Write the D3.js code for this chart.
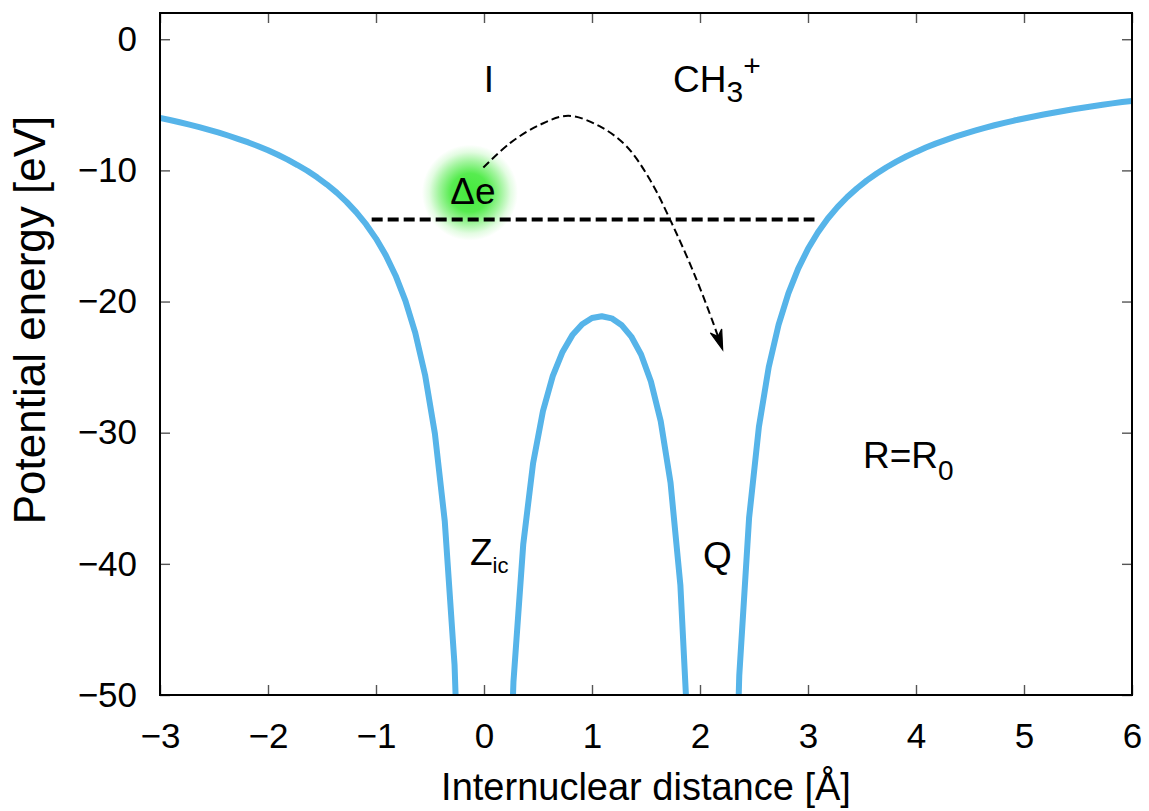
<!DOCTYPE html>
<html><head><meta charset="utf-8">
<script src="https://cdn.jsdelivr.net/npm/d3@7"></script>
<style>body{margin:0;background:#fff}</style>
</head><body><svg id="chart" width="1149" height="811"></svg>
<script>
// Internuclear distance samples [Å]
const distance = [-3, -2.9091, -2.8182, -2.7273, -2.6364, -2.5455, -2.4545, -2.3636, -2.2727, -2.1818, -2.0909,
  -2, -1.9091, -1.8182, -1.7273, -1.6364, -1.5455, -1.4545, -1.3636, -1.2727, -1.1818, -1.0909,
  -1, -0.9091, -0.8182, -0.7273, -0.6364, -0.5455, -0.4545, -0.3636, -0.2727, -0.1818, -0.0909,
  0,
  0.0909, 0.1818, 0.2727, 0.3636, 0.4545, 0.5455, 0.6364, 0.7273, 0.8182, 0.9091, 1,
  1.0909, 1.1818, 1.2727, 1.3636, 1.4545, 1.5455, 1.6364, 1.7273, 1.8182, 1.9091, 2,
  2.0909, 2.1818, 2.2727, 2.3636, 2.4545, 2.5455, 2.6364, 2.7273, 2.8182, 2.9091, 3,
  3.0909, 3.1818, 3.2727, 3.3636, 3.4545, 3.5455, 3.6364, 3.7273, 3.8182, 3.9091, 4,
  4.0909, 4.1818, 4.2727, 4.3636, 4.4545, 4.5455, 4.6364, 4.7273, 4.8182, 4.9091, 5,
  5.0909, 5.1818, 5.2727, 5.3636, 5.4545, 5.5455, 5.6364, 5.7273, 5.8182, 5.9091, 6];
// Potential energy [eV] (null = singular point)
const energy = [-6.00, -6.16, -6.33, -6.51, -6.70, -6.91, -7.12, -7.36, -7.61, -7.87, -8.16,
  -8.47, -8.81, -9.18, -9.59, -10.03, -10.53, -11.08, -11.70, -12.40, -13.20, -14.12,
  -15.20, -16.48, -18.03, -19.95, -22.39, -25.61, -30.08, -36.72, -47.70, -69.51, -134.6,
  null,
  -135.0, -70.37, -49.01, -38.49, -32.33, -28.37, -25.69, -23.84, -22.56, -21.73, -21.26,
  -21.12, -21.28, -21.78, -22.67, -24.04, -26.09, -29.13, -33.82, -41.61, -56.44, -94.23,
  -369.9, -176.9, -74.61, -48.51, -36.50, -29.55, -25.00, -21.78, -19.37, -17.49, -15.98,
  -14.74, -13.69, -12.80, -12.03, -11.36, -10.76, -10.24, -9.76, -9.33, -8.94, -8.59,
  -8.26, -7.96, -7.69, -7.43, -7.19, -6.97, -6.76, -6.56, -6.38, -6.20, -6.04,
  -5.89, -5.74, -5.60, -5.47, -5.34, -5.22, -5.11, -5.00, -4.89, -4.79, -4.70];
const xTicks = [-3, -2, -1, 0, 1, 2, 3, 4, 5, 6];
const yTicks = [0, -10, -20, -30, -40, -50];
// electron energy level (dashed line)
const levelX = [-1.04, 3.06];
const levelE = -13.75;
// electron hopping path (dashed arrow)
const hopX = [-0.006, 0.241, 0.519, 0.781, 1.074, 1.321, 1.537, 1.753, 1.969, 2.123, 2.21];
const hopE = [-9.78, -7.92, -6.52, -5.84, -6.65, -8.18, -10.72, -14.28, -18.34, -21.65, -23.68];

const W = 1149, H = 811;
const m = {left: 160, right: 1132, top: 13, bottom: 695};
const svg = d3.select('#chart');
const FONT = '"Liberation Sans", Arial, Helvetica, sans-serif';

const x = d3.scaleLinear().domain([-3, 6]).range([m.left, m.right]);
const y = d3.scaleLinear().domain([-50, 2]).range([m.bottom, m.top]);

const defs = svg.append('defs');
defs.append('clipPath').attr('id', 'clip').append('rect')
  .attr('x', m.left).attr('y', m.top).attr('width', m.right - m.left).attr('height', m.bottom - m.top);
const grad = defs.append('radialGradient').attr('id', 'glow');
[[0, 1], [0.4, 0.9], [0.65, 0.5], [0.85, 0.15], [1, 0]].forEach(([o, a]) =>
  grad.append('stop').attr('offset', o).attr('stop-color', '#44ea3c').attr('stop-opacity', a));

// ticks (inward, on all sides)
const tickStyle = g => {
  g.select('.domain').remove();
  g.selectAll('.tick line').attr('stroke', '#555').attr('stroke-width', 1.4);
  g.selectAll('.tick text').attr('font-family', FONT).attr('font-size', 35).attr('fill', '#000');
};
const fmt = d => (d < 0 ? '\u2212' + Math.abs(d) : String(d));
svg.append('g').attr('transform', `translate(0,${m.bottom})`)
  .call(d3.axisBottom(x).tickValues(xTicks).tickSizeInner(-10).tickSizeOuter(0).tickPadding(28).tickFormat(fmt))
  .call(tickStyle);
svg.append('g').attr('transform', `translate(0,${m.top})`)
  .call(d3.axisTop(x).tickValues(xTicks).tickSizeInner(-10).tickSizeOuter(0).tickFormat(''))
  .call(tickStyle);
svg.append('g').attr('transform', `translate(${m.left},0)`)
  .call(d3.axisLeft(y).tickValues(yTicks).tickSizeInner(-10).tickSizeOuter(0).tickPadding(23).tickFormat(fmt))
  .call(tickStyle);
svg.append('g').attr('transform', `translate(${m.right},0)`)
  .call(d3.axisRight(y).tickValues(yTicks).tickSizeInner(-10).tickSizeOuter(0).tickFormat(''))
  .call(tickStyle);

// glow behind Δe
svg.append('circle').attr('cx', x(-0.13)).attr('cy', y(-11.7)).attr('r', 48).attr('fill', 'url(#glow)');

// potential curve
const pts = distance.map((d, i) => ({x: d, e: energy[i]}));
svg.append('path').datum(pts).attr('clip-path', 'url(#clip)')
  .attr('fill', 'none').attr('stroke', '#56b4e9').attr('stroke-width', 6).attr('stroke-linejoin', 'round')
  .attr('d', d3.line().defined(d => d.e !== null).x(d => x(d.x)).y(d => y(d.e)));

// energy level
svg.append('line').attr('x1', x(levelX[0])).attr('x2', x(levelX[1]))
  .attr('y1', y(levelE)).attr('y2', y(levelE))
  .attr('stroke', '#000').attr('stroke-width', 4).attr('stroke-dasharray', '11,5');

// hopping arrow
const hop = hopX.map((d, i) => [x(d), y(hopE[i])]);
const n = hop.length;
const stem = hop.slice(0, -1).concat([[hop[n - 1][0] - 0.35 * (hop[n - 1][0] - hop[n - 2][0]),
  hop[n - 1][1] - 0.35 * (hop[n - 1][1] - hop[n - 2][1])]]);
svg.append('path').attr('d', d3.line().curve(d3.curveCatmullRom.alpha(0.5))(stem))
  .attr('fill', 'none').attr('stroke', '#000').attr('stroke-width', 2).attr('stroke-dasharray', '8,4');
{
  const [tx, ty] = hop[n - 1], [px, py] = hop[n - 2];
  const L = Math.hypot(tx - px, ty - py), ux = (tx - px) / L, uy = (ty - py) / L;
  const nx = -uy, ny = ux, len = 20, hw = 6;
  const bx = tx - ux * len, by = ty - uy * len;
  svg.append('path').attr('d', `M${bx + nx * hw},${by + ny * hw}L${tx},${ty}L${bx - nx * hw},${by - ny * hw}L${tx - ux * len * 0.7},${ty - uy * len * 0.7}Z`)
    .attr('fill', '#000').attr('stroke', '#000').attr('stroke-width', 1.2).attr('stroke-linejoin', 'miter');
}

// frame
svg.append('rect').attr('x', m.left).attr('y', m.top).attr('width', m.right - m.left).attr('height', m.bottom - m.top)
  .attr('fill', 'none').attr('stroke', '#000').attr('stroke-width', 2);

// annotations
const T = (px, py, size) => svg.append('text').attr('x', px).attr('y', py)
  .attr('font-family', FONT).attr('font-size', size).attr('fill', '#000');
T(489, 92, 37).attr('text-anchor', 'middle').text('I');
{
  const t = T(673, 92, 37);
  t.append('tspan').text('CH');
  t.append('tspan').attr('font-size', 30).attr('dy', 10).text('3');
  t.append('tspan').attr('font-size', 30).attr('dy', -26).text('+');
}
T(473, 204, 37).attr('text-anchor', 'middle').text('\u0394e');
{
  const t = T(863, 468, 37);
  t.append('tspan').text('R=R');
  t.append('tspan').attr('font-size', 28).attr('dy', 12).text('0');
}
{
  const t = T(470, 565, 37);
  t.append('tspan').text('Z');
  t.append('tspan').attr('font-size', 22).attr('dy', 8).text('ic');
}
T(703, 568, 37).text('Q');

// axis titles
svg.append('text').attr('x', 646).attr('y', 800).attr('text-anchor', 'middle')
  .attr('font-family', FONT).attr('font-size', 38).text('Internuclear distance [\u00C5]');
svg.append('text').attr('transform', `translate(45,${320}) rotate(-90)`).attr('text-anchor', 'middle')
  .attr('font-family', FONT).attr('font-size', 44).text('Potential energy [eV]');
</script></body></html>
